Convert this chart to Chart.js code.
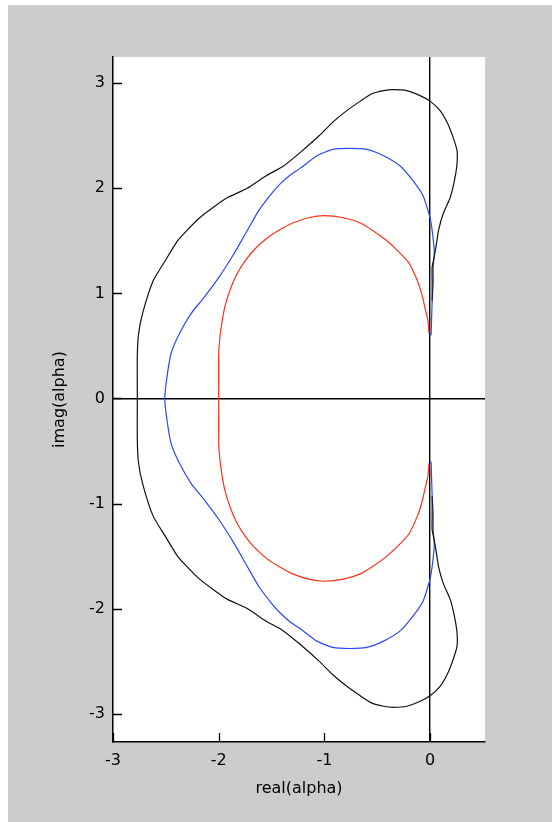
<!DOCTYPE html>
<html>
<head>
<meta charset="utf-8">
<script src="https://cdn.jsdelivr.net/npm/chart.js@4/dist/chart.umd.min.js"></script>
<style>
  body { margin: 0; background: #fff; }
  #frame { position: absolute; left: 8px; top: 5px; width: 544px; height: 817px; background: #cccccc; }
</style>
</head>
<body>
<div id="frame"><canvas id="locus" width="544" height="817"></canvas></div>
<script>
const blackRe = [0.02, 0.02, 0.02, 0.04, 0.065, 0.08, 0.125, 0.19, 0.23, 0.255, 0.255, 0.22, 0.17, 0.095, 0, -0.09, -0.22, -0.35, -0.44, -0.55, -0.66, -0.8, -0.92, -1.05, -1.23, -1.39, -1.55, -1.73, -1.92, -2.05, -2.18, -2.3, -2.39, -2.5, -2.62, -2.72, -2.76, -2.77, -2.77,
  -2.77, -2.76, -2.72, -2.62, -2.5, -2.39, -2.3, -2.18, -2.05, -1.92, -1.73, -1.55, -1.39, -1.23, -1.05, -0.92, -0.8, -0.66, -0.55, -0.44, -0.35, -0.22, -0.09, 0, 0.095, 0.17, 0.22, 0.255, 0.255, 0.23, 0.19, 0.125, 0.08, 0.065, 0.04, 0.02, 0.02, 0.02];
const blackIm = [0.93, 1.1, 1.25, 1.35, 1.5, 1.6, 1.76, 1.91, 2.07, 2.23, 2.36, 2.48, 2.61, 2.74, 2.83, 2.88, 2.93, 2.94, 2.93, 2.9, 2.83, 2.73, 2.63, 2.5, 2.34, 2.21, 2.12, 2.0, 1.91, 1.82, 1.72, 1.6, 1.5, 1.32, 1.12, 0.81, 0.6, 0.39, 0,
  -0.39, -0.6, -0.81, -1.12, -1.32, -1.5, -1.6, -1.72, -1.82, -1.91, -2.0, -2.12, -2.21, -2.34, -2.5, -2.63, -2.73, -2.83, -2.9, -2.93, -2.94, -2.93, -2.88, -2.83, -2.74, -2.61, -2.48, -2.36, -2.23, -2.07, -1.91, -1.76, -1.6, -1.5, -1.35, -1.25, -1.1, -0.93];

const blueRe = [0.01, 0.02, 0.03, 0.03, 0.04, 0.02, 0.0, -0.02, -0.066, -0.16, -0.28, -0.44, -0.6, -0.76, -0.92, -1.07, -1.23, -1.32, -1.42, -1.5, -1.62, -1.74, -1.86, -2.0, -2.14, -2.26, -2.37, -2.45, -2.49, -2.51,
  -2.49, -2.45, -2.37, -2.26, -2.14, -2.0, -1.86, -1.74, -1.62, -1.5, -1.42, -1.32, -1.23, -1.07, -0.92, -0.76, -0.6, -0.44, -0.28, -0.16, -0.066, -0.02, 0.0, 0.02, 0.04, 0.03, 0.03, 0.02, 0.01];
const blueIm = [0.6, 0.93, 1.1, 1.25, 1.4, 1.6, 1.72, 1.79, 1.93, 2.07, 2.21, 2.31, 2.37, 2.38, 2.37, 2.31, 2.19, 2.13, 2.04, 1.95, 1.79, 1.58, 1.37, 1.15, 0.96, 0.81, 0.62, 0.43, 0.2, 0,
  -0.2, -0.43, -0.62, -0.81, -0.96, -1.15, -1.37, -1.58, -1.79, -1.95, -2.04, -2.13, -2.19, -2.31, -2.37, -2.38, -2.37, -2.31, -2.21, -2.07, -1.93, -1.79, -1.72, -1.6, -1.4, -1.25, -1.1, -0.93, -0.6];

const redRe = [-0.01, -0.02, -0.05, -0.08, -0.12, -0.2, -0.31, -0.42, -0.53, -0.66, -0.82, -1.0, -1.15, -1.3, -1.43, -1.55, -1.66, -1.75, -1.83, -1.89, -1.94, -1.97, -1.99, -2.0, -2.0,
  -2.0, -1.99, -1.97, -1.94, -1.89, -1.83, -1.75, -1.66, -1.55, -1.43, -1.3, -1.15, -1.0, -0.82, -0.66, -0.53, -0.42, -0.31, -0.2, -0.12, -0.08, -0.05, -0.02, -0.01];
const redIm = [0.62, 0.74, 0.87, 1.0, 1.12, 1.29, 1.41, 1.51, 1.59, 1.67, 1.72, 1.74, 1.72, 1.67, 1.6, 1.52, 1.42, 1.31, 1.18, 1.04, 0.88, 0.72, 0.57, 0.4, 0,
  -0.4, -0.57, -0.72, -0.88, -1.04, -1.18, -1.31, -1.42, -1.52, -1.6, -1.67, -1.72, -1.74, -1.72, -1.67, -1.59, -1.51, -1.41, -1.29, -1.12, -1.0, -0.87, -0.74, -0.62];

const xTicks = [-3, -2, -1, 0];
const yTicks = [-3, -2, -1, 0, 1, 2, 3];

function pts(re, im) {
  return re.map((r, i) => ({ x: r, y: im[i] }));
}

function curve(re, im, color) {
  return {
    data: pts(re, im),
    showLine: true,
    borderColor: color,
    borderWidth: 1.2,
    pointRadius: 0,
    fill: false,
    tension: 0.2
  };
}

const font = { family: "'DejaVu Sans', sans-serif", size: 16 };

// white plot box
const plotBg = {
  id: "plotBg",
  beforeDraw(chart) {
    const { ctx, chartArea: a } = chart;
    ctx.save();
    ctx.fillStyle = "#fff";
    ctx.fillRect(a.left, a.top, a.right - a.left, a.bottom - a.top);
    ctx.restore();
  }
};

// matlab style ticks pointing into the plot
const inTicks = {
  id: "inTicks",
  afterDraw(chart) {
    const { ctx, chartArea: a, scales } = chart;
    ctx.save();
    ctx.strokeStyle = "#000";
    ctx.lineWidth = 1.3;
    ctx.beginPath();
    scales.x.ticks.forEach(t => {
      const px = Math.round(scales.x.getPixelForValue(t.value)) + 0.5;
      ctx.moveTo(px, a.bottom);
      ctx.lineTo(px, a.bottom - 9);
    });
    scales.y.ticks.forEach(t => {
      const py = Math.round(scales.y.getPixelForValue(t.value)) + 0.5;
      ctx.moveTo(a.left, py);
      ctx.lineTo(a.left + 9, py);
    });
    ctx.stroke();
    ctx.restore();
  }
};

const zeroLine = c => (c.tick && c.tick.value === 0 ? "#000" : "rgba(0,0,0,0)");

new Chart(document.getElementById("locus").getContext("2d"), {
  type: "scatter",
  data: {
    datasets: [
      curve(blackRe, blackIm, "#111111"),
      curve(blueRe, blueIm, "#2a48ff"),
      curve(redRe, redIm, "#ff3218")
    ]
  },
  options: {
    responsive: false,
    animation: false,
    layout: { padding: { left: 0, top: 52, right: 67, bottom: 0 } },
    plugins: { legend: { display: false }, tooltip: { enabled: false } },
    scales: {
      x: {
        type: "linear",
        min: -3,
        max: 0.52,
        afterFit: s => { s.height = 80; },
        afterBuildTicks: s => { s.ticks = xTicks.map(v => ({ value: v })); },
        ticks: { color: "#000", font: font, padding: 9, includeBounds: false },
        grid: { color: zeroLine, lineWidth: 1.4, drawTicks: false },
        border: { display: true, color: "#000", width: 1.5 },
        title: { display: true, text: "real(alpha)", color: "#000", font: font, padding: { top: 0, bottom: 24 } }
      },
      y: {
        type: "linear",
        min: -3.27,
        max: 3.25,
        afterFit: s => { s.width = 105; },
        afterBuildTicks: s => { s.ticks = yTicks.map(v => ({ value: v })); },
        ticks: { color: "#000", font: font, padding: 8, includeBounds: false },
        grid: { color: zeroLine, lineWidth: 1.4, drawTicks: false },
        border: { display: true, color: "#000", width: 1.5 },
        title: { display: true, text: "imag(alpha)", color: "#000", font: font, padding: { top: 42, bottom: 0 } }
      }
    }
  },
  plugins: [plotBg, inTicks]
});
</script>
</body>
</html>
